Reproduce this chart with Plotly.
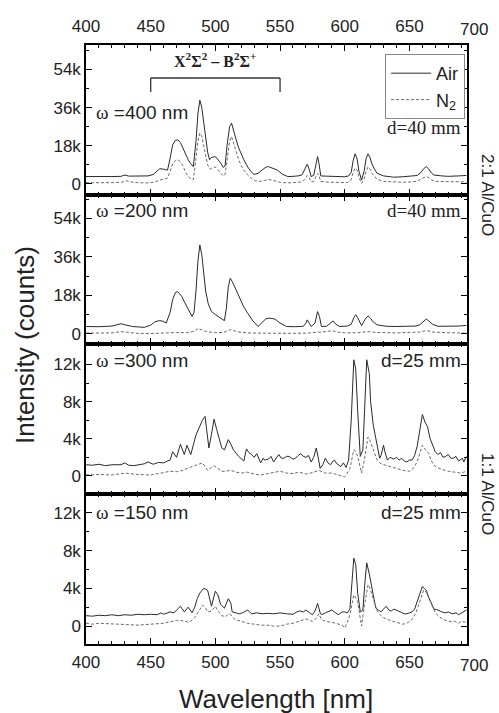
import plotly.graph_objects as go

# ---------------- data (wavelength nm, intensity counts) ----------------
wl_400_air = [400,410,420,427,430,433,440,448,452,455,457,460,463,465,467,469,471,473,475,477,479,481,483,485,486.5,488,489.5,491,492.5,494,495.5,497,500,502,504,506,507.5,509,511,512.5,514,516,518,520,522,525,528,530,533,536,539,541,544,548,552,556,560,564,567,569,571,572.5,574,576,577.5,579,580,581.5,585,590,595,600,603,605,606.5,608,609.5,611,613,615,616.5,618,619.5,621,623,625,630,638,645,652,656,659,661,663,665,667,669,675,680,688,694]
int_400_air = [3500,3400,3500,3600,4200,3700,3600,3800,4500,6000,7200,7000,6500,12000,18500,20500,20800,19500,16500,13500,11400,9500,8200,20000,33000,39500,36000,29000,22000,15000,11400,12500,12900,11500,10000,7800,8500,18000,27000,28700,25000,21000,17000,14000,11400,8000,5500,4500,5000,6500,7900,8200,7600,6500,4500,3500,3600,3800,4300,6500,9300,7000,3500,4000,8000,12900,10000,3800,3700,3600,3500,3400,3800,5500,11000,14200,12000,6000,1800,6000,12000,14200,12500,9500,7000,5000,3800,3200,3400,3600,4000,5500,7200,8200,7000,5200,4200,3800,3600,3800,4000]
wl_400_n2 = [400,410,420,428,431,434,440,448,453,457,460,463,465,467,469,471,473,475,477,479,481,483,485,486.5,488,489.5,491,492.5,494,496,498,500,502,504,506,507.5,509,511,512.5,514,516,518,520,522,525,528,531,535,538,541,545,550,556,562,566,569,571,572.5,574,576,577.5,579,580,581.5,588,595,602,605,606.5,608,609.5,611,613,615,616.5,618,619.5,621,623,625,630,638,645,652,656,659,661,663,665,667,670,680,688,694]
int_400_n2 = [600,500,600,900,1600,1000,600,500,900,1800,2200,2800,6000,9500,11000,11400,10500,8500,5500,3500,2500,2000,12000,20000,24000,22500,18000,13000,9000,7000,7800,8000,6500,5000,3800,4500,12000,20000,22400,19500,15000,11500,8500,6500,4200,2500,1500,1200,1600,2200,1600,800,500,600,900,2000,4000,3000,1000,1200,3000,5000,4000,1200,800,600,700,2000,5500,7500,6500,3000,300,2500,6000,8000,7000,5000,3500,2200,1200,800,800,1000,1300,2300,3100,3500,3000,2000,1200,1000,900,1000]

wl_200_air = [400,410,420,425,427,430,436,445,450,453,456,459,462,465,467,469,470.5,472,474,476,478,480,482,483.5,485,486.5,488,489.5,491,492.5,494.5,497,500,504,507,508.5,510,511.5,513,516,519,522,525,529,533,536,539,542,546,550,555,562,568,570,571,572.5,574,577,579,580.5,582,586,589,591,593,596,602,605,607,608.5,610,613,616,618,620,622,625,632,640,650,655,658,661,663,665,668,672,680,688,694]
int_200_air = [3400,3300,3600,4400,4700,4200,3400,3000,4000,5500,6100,6000,5000,10000,16000,19200,19800,19000,17500,15000,12500,10000,8100,10000,20000,34000,41600,37000,28000,20000,14000,10400,9000,7300,6100,12000,22000,26000,24500,20600,16500,12500,9600,6000,3400,5000,7000,7300,6900,5000,3400,3300,3500,5000,6500,5000,3400,5000,10400,8000,3400,3500,5000,6000,4500,3400,3600,4400,7500,8900,7500,3800,7000,8400,7200,5500,4200,3500,3400,3300,3600,4200,6000,6900,6000,4400,3500,3400,3600,3900]
wl_200_n2 = [400,410,420,427,432,440,450,460,470,478,484,486.5,489,493,500,506,510,512,515,520,530,540,550,560,570,580,586,590,593,600,610,618,625,640,650,658,663,668,680,694]
int_200_n2 = [300,200,400,1000,600,200,100,400,600,500,1200,2500,2000,1000,500,600,1500,2000,1300,600,300,200,100,200,300,600,1000,1500,900,400,500,1000,600,400,500,800,1500,800,500,300]

wl_300_air = [400,405,410,415,420,425,427,430,433,437,441,445,448,452,456,460,463,465,467,470,473,476,478,481,485,488,490,492,495,497,499,501,503,505,507,510,512,514,518,520,522,524,526,528,530,532,535,537,538,541,543,545,547,549,551,553,555,557,560,562,564,566,568,570,572,574,576,578,580,581,583,585,587,589,591,592,594,597,599,601,603,605,607,608.5,610,612,614,616,617,619,620,622,624,627,628,630,631,633,635,638,640,642,644,646,648,650,652,654,656,658,660,662,664,666,668,670,672,674,676,678,680,682,684,686,688,689,691,692,694]
int_300_air = [1200,1150,1250,1100,1200,1150,1200,1400,1150,1100,1200,1300,1500,1250,1450,1400,1600,1700,2600,2000,3400,2300,3300,2300,4400,5300,6000,6400,3000,4500,6100,5000,3900,3000,2800,3900,3400,2800,2100,1800,1600,2900,2500,2300,2000,2400,1400,1900,1700,1800,2100,1500,1900,2300,1900,1900,2100,2100,1800,1900,2200,2400,2100,2000,2200,1500,2000,3000,1600,800,1200,1900,1400,1200,1600,1700,1300,1000,1400,900,1700,6000,12500,11500,7000,2100,2800,9000,12500,11000,8000,5500,3900,1900,2200,3300,2600,1700,2000,1800,2000,1700,1900,1600,1500,1700,1700,2200,3200,4800,6600,5800,5300,4000,3200,2600,2300,2500,2000,2100,2300,1900,1900,2100,1600,1700,1900,1500,2100]
wl_300_n2 = [400,410,420,430,440,450,458,465,470,475,480,485,488,490,494,497,499,502,505,508,512,516,520,525,530,535,540,545,550,555,560,565,570,575,580,585,590,595,600,602,604,607,608.5,610,612,613,615,618,619.5,621,623,625,628,630,635,640,645,650,653,656,658,660,662,665,667,670,675,680,685,690,694]
int_300_n2 = [100,150,100,300,150,100,300,500,450,600,900,1200,1300,1400,600,900,1100,800,500,500,600,400,300,400,200,100,250,400,500,300,250,400,200,350,600,300,300,100,-100,300,800,2800,2600,2100,800,300,1600,4200,3800,3200,2300,1700,1300,1200,1000,800,600,500,800,1500,2500,3300,2900,2400,1600,1000,700,500,400,300,500]

wl_150_air = [400,405,410,415,420,425,430,435,440,445,450,455,458,460,465,468,470,473,476,479,482,484,486,488,491,494,497,499,500,502,504,507,510,512,513,516,518,521,525,528,532,536,540,545,550,555,560,563,565,568,570,573,575,577,579,581,582,585,588,590,593,595,598,600,602,604,605.5,607,608.5,610,612,614,615.5,617,619,620,622,624,626,628,630,632,634,636,638,640,643,646,648,650,652,654,656,658,660,662,663,665,667,669,672,675,678,680,683,686,688,690,692,694]
int_150_air = [1100,1050,1150,1100,1200,1100,1200,1150,1250,1200,1250,1200,1400,1250,1500,1400,1700,2100,1500,2000,1400,2000,2900,3500,4000,3800,2100,3200,3700,3300,2300,1900,2900,2400,1500,1400,1300,1400,1700,1300,1400,1300,1350,1300,1400,1300,1250,1500,1600,1500,1700,1400,1200,1600,2400,1400,1200,1400,1600,1700,1400,1200,1500,1500,1400,1800,4500,7200,6500,3500,1500,1700,4500,6700,5500,4800,3000,1900,1700,1500,1800,2100,1700,1600,1800,1700,1500,1300,1300,1400,1500,1800,2600,3500,4200,3900,3800,3000,2400,1800,1700,1500,1400,1500,1300,1400,1200,1350,1500,1700]
wl_150_n2 = [400,405,410,420,430,440,450,460,465,470,473,476,480,484,487,490,492,494,497,500,502,505,508,510,512,515,520,525,530,535,540,545,550,555,560,565,570,573,575,578,580,582,585,590,595,598,600,602,604,605.5,607,608.5,610,612,613,615,617,618,619.5,621,623,625,628,630,635,640,645,648,652,655,657,659,661,663,665,667,670,673,676,680,685,688,690,694]
int_150_n2 = [300,200,300,250,200,100,200,300,450,600,600,500,400,900,1600,2200,2000,1500,1600,2100,1600,1100,1000,1300,1200,700,500,300,200,100,100,0,0,200,300,500,750,600,500,800,1300,700,500,400,200,100,-200,400,1200,2500,3300,3000,2600,800,0,2000,3800,4400,4000,3300,2400,1600,1100,900,600,400,200,300,700,1400,2200,3200,3800,3600,3000,2300,1400,1000,700,500,500,300,500,400]

panel_labels = ["=400 nm", "=200 nm", "=300 nm", "=150 nm"]
dist_labels = ["d=40 mm", "d=40 mm", "d=25 mm", "d=25 mm"]
series_names = ["Air", "N<sub>2</sub>"]
band_label = "<b>X<sup>2</sup>Σ<sup>2</sup> – B<sup>2</sup>Σ<sup>+</sup></b>"
band_range = [450, 550]
group_labels = ["2:1 Al/CuO", "1:1 Al/CuO"]

panels = [
    (wl_400_air, int_400_air, wl_400_n2, int_400_n2),
    (wl_200_air, int_200_air, wl_200_n2, int_200_n2),
    (wl_300_air, int_300_air, wl_300_n2, int_300_n2),
    (wl_150_air, int_150_air, wl_150_n2, int_150_n2),
]

# ---------------- layout geometry ----------------
W, H = 499, 713
ML, MR, MT, MB = 86, 32, 45, 69
PW = W - ML - MR
PH = H - MT - MB
bounds_px = [45, 195, 344, 494, 644]
XR = [400, 694.5]
yranges = [[-5200, 65500], [-4800, 65000], [-1950, 14200], [-1900, 14000]]
ydt = [18000, 18000, 4000, 4000]

SANS = "Liberation Sans, Arial, sans-serif"
SERIF = "Liberation Serif, Times New Roman, serif"
TXT = "#222"

fig = go.Figure()
for i, (wa, ia, wn, inn) in enumerate(panels):
    xa = "x" if i == 0 else f"x{i+1}"
    ya = "y" if i == 0 else f"y{i+1}"
    fig.add_trace(go.Scatter(x=wa, y=ia, mode="lines", name=series_names[0],
                             line=dict(color="#2a2a2a", width=1), xaxis=xa, yaxis=ya,
                             showlegend=(i == 0)))
    fig.add_trace(go.Scatter(x=wn, y=inn, mode="lines", name=series_names[1],
                             line=dict(color="#6a6a6a", width=1, dash="3px,2px"), xaxis=xa, yaxis=ya,
                             showlegend=(i == 0)))

layout = dict(
    width=W, height=H,
    margin=dict(l=ML, r=MR, t=MT, b=MB),
    paper_bgcolor="white", plot_bgcolor="white",
    font=dict(family=SANS, size=17, color=TXT),
    showlegend=True,
    legend=dict(x=0.995, y=0.985, xanchor="right", yanchor="top",
                bordercolor="#888", borderwidth=1, bgcolor="white",
                font=dict(family=SANS, size=18, color=TXT),
                tracegroupgap=0, itemwidth=40),
)

for i in range(4):
    top, bot = bounds_px[i], bounds_px[i + 1]
    dom = [(bounds_px[-1] - bot) / PH, (bounds_px[-1] - top) / PH]
    xk = "xaxis" if i == 0 else f"xaxis{i+1}"
    yk = "yaxis" if i == 0 else f"yaxis{i+1}"
    ya = "y" if i == 0 else f"y{i+1}"
    xa = "x" if i == 0 else f"x{i+1}"
    layout[xk] = dict(
        range=XR, anchor=ya, matches=None if i == 0 else "x",
        side="top" if i == 0 else "bottom",
        showticklabels=(i == 0 or i == 3),
        ticklabelstandoff=4 if i == 0 else 2,
        tickmode="linear", tick0=400, dtick=50,
        ticks="inside", ticklen=6, tickwidth=1, tickcolor="black",
        minor=dict(ticks="inside", ticklen=3, dtick=10, tick0=400, tickcolor="black"),
        showline=True, linecolor="black", linewidth=1.5, mirror="ticks",
        showgrid=False, zeroline=False, automargin=False,
        tickfont=dict(family=SANS, size=17, color=TXT),
    )
    layout[yk] = dict(
        domain=dom, range=yranges[i], anchor=xa,
        tickmode="linear", tick0=0, dtick=ydt[i], tickformat="~s",
        ticks="inside", ticklen=6, tickwidth=1, tickcolor="black",
        minor=dict(ticks="inside", ticklen=3, dtick=ydt[i] / 2, tick0=0, tickcolor="black"),
        showline=True, linecolor="black", linewidth=1.5, mirror="ticks",
        showgrid=False, zeroline=False, automargin=False,
        tickfont=dict(family=SANS, size=17, color=TXT),
    )

fig.update_layout(**layout)

ann = []
shapes = []
omega_y = [0.553, 0.893, 0.893, 0.88]
for i in range(4):
    xd = "x domain" if i == 0 else f"x{i+1} domain"
    yd = "y domain" if i == 0 else f"y{i+1} domain"
    ann.append(dict(xref=xd, yref=yd, x=0.022, y=omega_y[i], xanchor="left", yanchor="middle",
                    text=f'<span style="font-family:{SERIF}">ω</span> {panel_labels[i]}',
                    showarrow=False, font=dict(family=SANS, size=19, color=TXT)))
    dy = 0.45 if i == 0 else omega_y[i]
    ann.append(dict(xref=xd, yref=yd, x=0.99, y=dy, xanchor="right", yanchor="middle",
                    text=dist_labels[i], showarrow=False,
                    font=dict(family=SERIF if i < 2 else SANS, size=19, color=TXT)))

# band bracket (panel 1)
ann.append(dict(xref="x", yref="y domain", x=sum(band_range) / 2, y=0.9, text=band_label,
                xanchor="center", yanchor="middle",
                showarrow=False, font=dict(family=SERIF, size=16, color=TXT)))
for xv in band_range:
    shapes.append(dict(type="line", xref="x", yref="y domain", x0=xv, x1=xv, y0=0.687, y1=0.78,
                       line=dict(color="#333", width=1.3)))
shapes.append(dict(type="line", xref="x", yref="y domain", x0=band_range[0], x1=band_range[1],
                   y0=0.78, y1=0.78, line=dict(color="#333", width=1.3)))

# thick separator between groups
sep = (bounds_px[-1] - bounds_px[2]) / PH
shapes.append(dict(type="line", xref="paper", yref="paper", x0=0, x1=1, y0=sep, y1=sep,
                   line=dict(color="black", width=3.5)))

# 700 tick labels (just beyond frame)
x700 = (700 - XR[0]) / (XR[1] - XR[0])
ann.append(dict(xref="paper", yref="paper", x=x700, y=1.0, yshift=4, xanchor="center", yanchor="bottom",
                text="700", showarrow=False, font=dict(family=SANS, size=17, color=TXT)))
ann.append(dict(xref="paper", yref="paper", x=x700, y=0.0, yshift=-10, xanchor="center", yanchor="top",
                text="700", showarrow=False, font=dict(family=SANS, size=17, color=TXT)))

# group labels on the right
for lbl, ypx in zip(group_labels, [bounds_px[1], bounds_px[3]]):
    ann.append(dict(xref="paper", yref="paper", x=(488 - ML) / PW, y=(bounds_px[-1] - ypx) / PH,
                    text=lbl, textangle=90, showarrow=False, xanchor="center", yanchor="middle",
                    font=dict(family=SANS, size=17, color=TXT)))

# axis titles
ann.append(dict(xref="paper", yref="paper", x=(25 - ML) / PW, y=(644 - 345) / PH,
                text="Intensity (counts)", textangle=-90, showarrow=False,
                xanchor="center", yanchor="middle",
                font=dict(family=SANS, size=26, color=TXT)))
ann.append(dict(xref="paper", yref="paper", x=(276 - ML) / PW, y=(644 - 699) / PH,
                text="Wavelength [nm]", showarrow=False, xanchor="center", yanchor="middle",
                font=dict(family=SANS, size=26, color=TXT)))

fig.update_layout(annotations=ann, shapes=shapes)
fig.write_html("out.html", config={"displayModeBar": False},
               post_script="document.body.style.margin='0px';document.body.style.overflow='hidden';")
